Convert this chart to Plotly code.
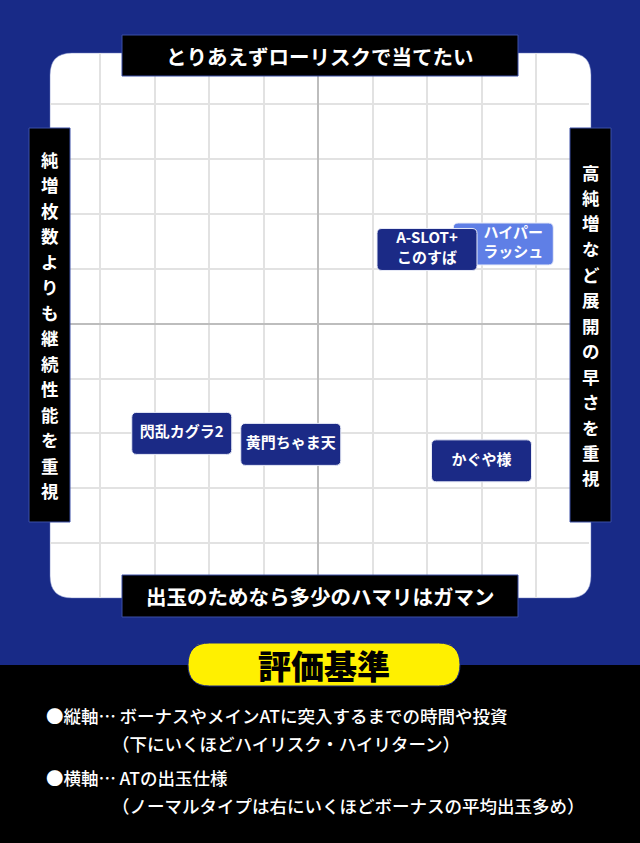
import plotly.graph_objects as go

# Positioning map data (x: 出玉仕様 / 展開の早さ, y: ローリスク <-> ハイリスク)
machines = ["ハイパー<br>ラッシュ", "A-SLOT+<br>このすば", "閃乱カグラ2", "黄門ちゃま天", "かぐや様"]
speed_x = [3.4, 2.0, -2.5, -0.5, 3.0]
risk_y = [1.45, 1.35, -2.0, -2.2, -2.5]
box_colors = ["#5f7fe6", "#1b2a86", "#1b2a86", "#1b2a86", "#1b2a86"]
# text shift inside the box (pixels), ハイパー's text sits right of the overlap
label_shift = [10, 0, 0, 0, 0]

top_label = "とりあえずローリスクで当てたい"
bottom_label = "出玉のためなら多少のハマリはガマン"
left_label = "純増枚数よりも継続性能を重視"
right_label = "高純増など展開の早さを重視"

criteria_title = "評価基準"
criteria_lines = [
    "●縦軸…\u2009ボーナスやメインATに突入するまでの時間や投資",
    "（下にいくほどハイリスク・ハイリターン）",
    "●横軸…\u2009ATの出玉仕様",
    "（ノーマルタイプは右にいくほどボーナスの平均出玉多め）",
]

W, H = 640, 843
BLUE = "#182a87"
FONT = "Noto Sans CJK JP"

# pixel geometry of the map grid
CX, UX = 318, 54.5
CY, UY = 323.6, 54.9
XR = [-4.92, 4.98]
YR = [-4.99, 4.93]


def px(x):
    return x / W


def py(y):
    return 1 - y / H


def rrect_paper(x0, y0, x1, y1, r):
    # rounded rectangle path in paper coords from pixel box
    rx, ry = r / W, r / H
    a, b, c, d = px(x0), py(y1), px(x1), py(y0)  # left, bottom, right, top
    return (f"M{a+rx},{d} L{c-rx},{d} Q{c},{d} {c},{d-ry} "
            f"L{c},{b+ry} Q{c},{b} {c-rx},{b} L{a+rx},{b} Q{a},{b} {a},{b+ry} "
            f"L{a},{d-ry} Q{a},{d} {a+rx},{d} Z")


def rrect_data(xc, yc, hw, hh, rx, ry):
    a, c = xc - hw, xc + hw
    b, d = yc - hh, yc + hh
    return (f"M{a+rx},{d} L{c-rx},{d} Q{c},{d} {c},{d-ry} "
            f"L{c},{b+ry} Q{c},{b} {c-rx},{b} L{a+rx},{b} Q{a},{b} {a},{b+ry} "
            f"L{a},{d-ry} Q{a},{d} {a+rx},{d} Z")


shapes = [
    # blue top area and white rounded panel
    dict(type="rect", xref="paper", yref="paper", x0=0, x1=1, y0=py(665), y1=1,
         fillcolor=BLUE, line_width=0, layer="below"),
    dict(type="path", xref="paper", yref="paper", path=rrect_paper(50, 53, 591, 598, 22),
         fillcolor="white", line=dict(color="#6d7cc0", width=0.5), layer="below"),
]

# machine boxes
hw, hh = 50 / UX, 21 / UY
for xv, yv, col in zip(speed_x, risk_y, box_colors):
    shapes.append(dict(type="path", xref="x", yref="y",
                       path=rrect_data(xv, yv, hw, hh, 5 / UX, 5 / UY),
                       fillcolor=col, line=dict(color="#e8ebf7", width=1), layer="between"))

# black axis label boxes
for x0, y0, x1, y1 in [(122, 35, 518, 76), (122, 575, 518, 617), (29, 128, 70, 522), (570, 128, 611, 522)]:
    shapes.append(dict(type="rect", xref="paper", yref="paper",
                       x0=px(x0), x1=px(x1), y0=py(y1), y1=py(y0),
                       fillcolor="black", line=dict(color="#3b4ea6", width=1), layer="above"))

# yellow pill
shapes.append(dict(type="path", xref="paper", yref="paper", path=rrect_paper(188, 643, 460, 686, 21.5),
                   fillcolor="#fff000", line=dict(color="#1b2a86", width=1), layer="above"))

annotations = []


def add_text(text, x, y, size, color="white", weight="bold", xanchor="center"):
    annotations.append(dict(
        text=text, x=px(x), y=py(y), borderpad=0,
        xref="paper", yref="paper", xanchor=xanchor, yanchor="middle", showarrow=False,
        font=dict(family=FONT, size=size, color=color, weight=weight)))


add_text(top_label, 320, 56, 20.5)
add_text(bottom_label, 320, 596, 20.5)

# vertical labels: one character per annotation, stacked
VSIZE, VSTEP = 17.5, 25.5
for label, xc in [(left_label, 49.5), (right_label, 590.5)]:
    for i, ch in enumerate(label):
        add_text(ch, xc, 325 - VSTEP * (len(label) - 1) / 2 + i * VSTEP, VSIZE)

add_text(criteria_title, 324, 665, 33, color="black", weight=900)
line_pos = [(45, 715), (111, 743), (45, 777), (111, 805)]
for txt, (x, y) in zip(criteria_lines, line_pos):
    add_text(txt, x, y, 17.5, weight=500, xanchor="left")

fig = go.Figure(go.Scatter(
    x=[xv + s / UX for xv, s in zip(speed_x, label_shift)], y=risk_y, mode="text",
    text=machines,
    textposition="middle center",
    textfont=dict(family=FONT, size=15, color="white", weight="bold"),
    hoverinfo="skip",
))

axis_common = dict(showticklabels=False, ticks="", dtick=1, tick0=0, showline=False,
                   gridcolor="#e2e2e2", gridwidth=1.5, zeroline=True,
                   zerolinecolor="#bdbdbd", zerolinewidth=2, fixedrange=True)

fig.update_layout(
    width=W, height=H,
    margin=dict(l=0, r=0, t=0, b=0),
    paper_bgcolor="black",
    plot_bgcolor="rgba(0,0,0,0)",
    showlegend=False,
    xaxis=dict(range=XR, domain=[px(CX + XR[0] * UX), px(CX + XR[1] * UX)], **axis_common),
    yaxis=dict(range=YR, domain=[py(CY - YR[0] * UY), py(CY - YR[1] * UY)], **axis_common),
    shapes=shapes,
    annotations=annotations,
)

# drop the default page margin so the figure fills the window
fig.write_html("out.html", config={"displayModeBar": False},
               post_script="document.body.style.margin='0';document.body.style.overflow='hidden';")
